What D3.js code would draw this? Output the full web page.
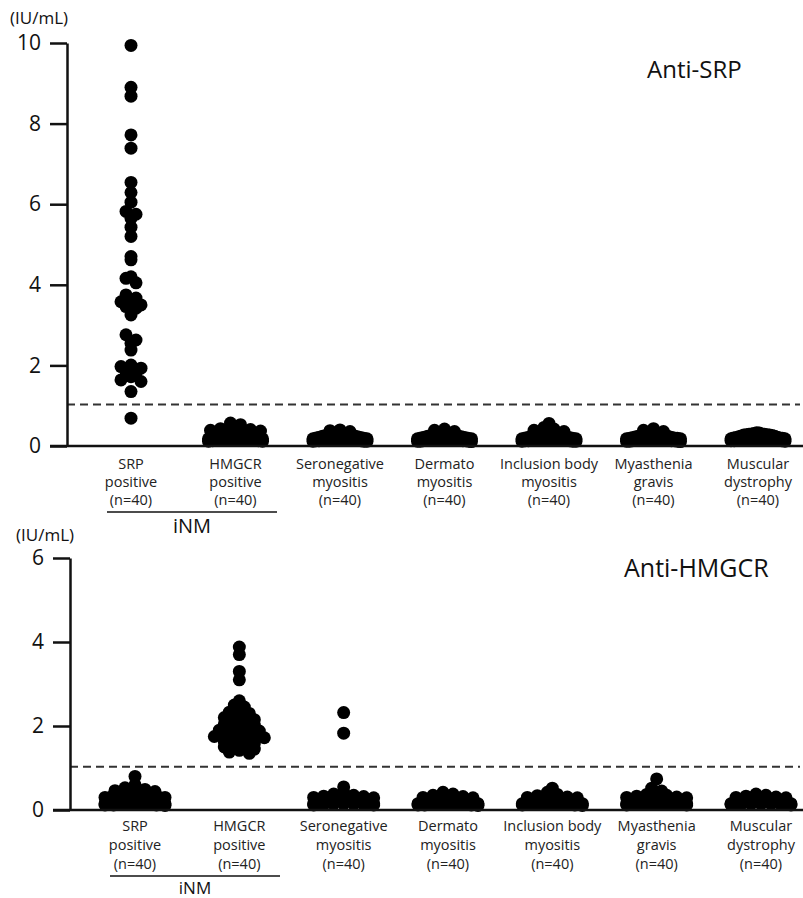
<!DOCTYPE html>
<html>
<head>
<meta charset="utf-8">
<script src="https://cdn.jsdelivr.net/npm/d3@7"></script>
<style>
  html, body { margin: 0; padding: 0; background: #fff; }
  svg { display: block; font-family: "Open Sans", "DejaVu Sans", sans-serif; }
</style>
</head>
<body>
<svg id="chart" width="803" height="898"></svg>
<script>
// group labels (3 lines each), shared by both panels
const groups = ["SRP", "HMGCR", "Seroneg", "Dermato", "IBM", "MG", "MD"];
const groupLabels = [
  ["SRP", "positive", "(n=40)"],
  ["HMGCR", "positive", "(n=40)"],
  ["Seronegative", "myositis", "(n=40)"],
  ["Dermato", "myositis", "(n=40)"],
  ["Inclusion body", "myositis", "(n=40)"],
  ["Myasthenia", "gravis", "(n=40)"],
  ["Muscular", "dystrophy", "(n=40)"]
];
const cutoff = 1.03;

// ---- Anti-SRP values (IU/mL) ----
const srpSRP = [9.94, 8.9, 8.68, 7.72, 7.39, 6.54, 6.29, 6.05, 5.82, 5.75, 5.65, 5.43, 5.2, 4.7, 4.62,
  4.2, 4.16, 4.05, 3.75, 3.67, 3.63, 3.58, 3.5, 3.46, 3.42, 3.25, 2.76, 2.63, 2.55, 2.38,
  2.01, 1.97, 1.93, 1.85, 1.8, 1.72, 1.64, 1.6, 1.35, 0.69];
const srpHMGCR = [0.57, 0.53, 0.48, 0.45, 0.43, 0.41, 0.39, 0.37, 0.34, 0.33, 0.32, 0.31, 0.3, 0.29, 0.28,
  0.27, 0.26, 0.25, 0.24, 0.23, 0.22, 0.21, 0.2, 0.19, 0.18, 0.18, 0.17, 0.17, 0.16, 0.16,
  0.16, 0.15, 0.15, 0.15, 0.14, 0.14, 0.13, 0.13, 0.12, 0.12];
const srpSeroneg = [0.4, 0.38, 0.36, 0.33, 0.32, 0.31, 0.3, 0.3, 0.29, 0.28, 0.27, 0.26, 0.25, 0.24, 0.23,
  0.22, 0.21, 0.2, 0.19, 0.18, 0.18, 0.17, 0.17, 0.17, 0.16, 0.16, 0.16, 0.15, 0.15, 0.15,
  0.14, 0.14, 0.14, 0.14, 0.13, 0.13, 0.13, 0.12, 0.12, 0.12];
const srpDermato = [0.42, 0.39, 0.36, 0.33, 0.32, 0.31, 0.3, 0.29, 0.28, 0.27, 0.26, 0.25, 0.24, 0.23, 0.22,
  0.21, 0.2, 0.19, 0.18, 0.18, 0.17, 0.17, 0.17, 0.16, 0.16, 0.16, 0.15, 0.15, 0.15, 0.14,
  0.14, 0.14, 0.14, 0.13, 0.13, 0.13, 0.12, 0.12, 0.12, 0.11];
const srpIBM = [0.56, 0.46, 0.42, 0.39, 0.36, 0.33, 0.32, 0.31, 0.3, 0.29, 0.28, 0.27, 0.26, 0.25, 0.24,
  0.23, 0.22, 0.21, 0.2, 0.19, 0.18, 0.18, 0.17, 0.17, 0.17, 0.16, 0.16, 0.16, 0.15, 0.15,
  0.15, 0.14, 0.14, 0.14, 0.13, 0.13, 0.13, 0.12, 0.12, 0.12];
const srpMG = [0.43, 0.39, 0.36, 0.33, 0.32, 0.31, 0.3, 0.29, 0.28, 0.27, 0.26, 0.25, 0.24, 0.23, 0.22,
  0.21, 0.2, 0.19, 0.19, 0.18, 0.18, 0.17, 0.17, 0.17, 0.16, 0.16, 0.16, 0.15, 0.15, 0.15,
  0.14, 0.14, 0.14, 0.13, 0.13, 0.13, 0.12, 0.12, 0.12, 0.11];
const srpMD = [0.33, 0.32, 0.31, 0.3, 0.3, 0.29, 0.29, 0.28, 0.28, 0.27, 0.27, 0.26, 0.25, 0.24, 0.23,
  0.22, 0.21, 0.2, 0.2, 0.19, 0.18, 0.18, 0.17, 0.17, 0.17, 0.16, 0.16, 0.16, 0.15, 0.15,
  0.15, 0.15, 0.14, 0.14, 0.14, 0.14, 0.13, 0.13, 0.13, 0.12];

// ---- Anti-HMGCR values (IU/mL) ----
const hmgSRP = [0.8, 0.6, 0.57, 0.53, 0.49, 0.46, 0.44, 0.42, 0.4, 0.38, 0.36, 0.35, 0.33, 0.32, 0.3,
  0.3, 0.28, 0.27, 0.26, 0.25, 0.24, 0.22, 0.21, 0.2, 0.2, 0.19, 0.18, 0.17, 0.16, 0.16,
  0.15, 0.15, 0.14, 0.14, 0.13, 0.13, 0.12, 0.12, 0.12, 0.11];
const hmgHMGCR = [3.88, 3.7, 3.3, 3.1, 2.6, 2.5, 2.45, 2.38, 2.33, 2.3, 2.27, 2.23, 2.2, 2.15, 2.12,
  2.08, 2.05, 2.02, 1.98, 1.96, 1.93, 1.9, 1.88, 1.85, 1.82, 1.8, 1.78, 1.75, 1.72, 1.68,
  1.65, 1.62, 1.58, 1.55, 1.53, 1.5, 1.45, 1.42, 1.38, 1.35];
const hmgSeroneg = [2.32, 1.83, 0.55, 0.42, 0.38, 0.35, 0.33, 0.32, 0.3, 0.29, 0.28, 0.27, 0.26, 0.25, 0.24,
  0.23, 0.22, 0.22, 0.21, 0.2, 0.2, 0.19, 0.19, 0.18, 0.18, 0.17, 0.17, 0.16, 0.16, 0.16,
  0.15, 0.15, 0.15, 0.14, 0.14, 0.14, 0.13, 0.13, 0.12, 0.12];
const hmgDermato = [0.42, 0.38, 0.35, 0.32, 0.3, 0.29, 0.28, 0.27, 0.26, 0.25, 0.24, 0.24, 0.23, 0.22, 0.22,
  0.21, 0.2, 0.2, 0.19, 0.19, 0.18, 0.18, 0.17, 0.17, 0.16, 0.16, 0.16, 0.15, 0.15, 0.15,
  0.14, 0.14, 0.14, 0.13, 0.13, 0.13, 0.12, 0.12, 0.12, 0.11];
const hmgIBM = [0.52, 0.42, 0.37, 0.34, 0.31, 0.3, 0.29, 0.28, 0.27, 0.26, 0.25, 0.24, 0.24, 0.23, 0.22,
  0.22, 0.21, 0.2, 0.2, 0.19, 0.19, 0.18, 0.18, 0.17, 0.17, 0.16, 0.16, 0.16, 0.15, 0.15,
  0.15, 0.14, 0.14, 0.14, 0.13, 0.13, 0.13, 0.12, 0.12, 0.11];
const hmgMG = [0.74, 0.52, 0.45, 0.41, 0.37, 0.35, 0.33, 0.31, 0.3, 0.29, 0.28, 0.27, 0.26, 0.25, 0.24,
  0.23, 0.22, 0.21, 0.2, 0.2, 0.19, 0.19, 0.18, 0.18, 0.17, 0.17, 0.16, 0.16, 0.16, 0.15,
  0.15, 0.15, 0.14, 0.14, 0.14, 0.13, 0.13, 0.13, 0.12, 0.12];
const hmgMD = [0.38, 0.35, 0.33, 0.31, 0.3, 0.29, 0.28, 0.28, 0.27, 0.26, 0.26, 0.25, 0.24, 0.24, 0.23,
  0.22, 0.22, 0.21, 0.2, 0.2, 0.19, 0.19, 0.18, 0.18, 0.17, 0.17, 0.17, 0.16, 0.16, 0.16,
  0.15, 0.15, 0.15, 0.14, 0.14, 0.14, 0.13, 0.13, 0.13, 0.12];

const srpTicks = [0, 2, 4, 6, 8, 10];
const hmgTicks = [0, 2, 4, 6];

const svg = d3.select("#chart");

// GraphPad-like scatter: values are binned by height, each bin spread sideways,
// the highest values of a bin in the middle so the low groups pile up into mounds
function swarm(vals, y, cx, binPx, gap, maxW) {
  const base = y(0);
  const bins = d3.group(vals, v => Math.floor((base - y(v)) / binPx));
  const out = [];
  bins.forEach(b => {
    const sorted = b.slice().sort((a, c) => c - a);
    const n = sorted.length;
    const sp = n > 1 ? Math.min(gap, maxW / (n - 1)) : 0;
    const slots = d3.range(n).map(j => (j - (n - 1) / 2) * sp)
      .sort((a, c) => Math.abs(a) - Math.abs(c) || a - c);
    sorted.forEach((v, k) => out.push({ x: cx + slots[k], y: y(v) }));
  });
  return out;
}

function panel(p) {
  const g = svg.append("g");
  const y = d3.scaleLinear().domain([0, p.max]).range([p.y0, p.y1]);
  const x = d3.scalePoint().domain(groups).range(p.xr);

  // threshold line
  g.append("line")
    .attr("x1", p.ax).attr("x2", 800)
    .attr("y1", y(cutoff)).attr("y2", y(cutoff))
    .attr("stroke", "#333").attr("stroke-width", 2)
    .attr("stroke-dasharray", "8,5");

  // dots
  p.series.forEach((vals, i) => {
    const pts = swarm(vals, y, x(groups[i]), p.binPx, 10, p.maxW);
    g.selectAll(null)
      .data(pts)
      .join("circle")
      .attr("cx", d => d.x)
      .attr("cy", d => d.y)
      .attr("r", 6.5)
      .attr("fill", "#000");
  });

  // y axis
  const yAxis = g.append("g")
    .attr("transform", `translate(${p.ax},0)`)
    .call(d3.axisLeft(y).tickValues(p.ticks).tickFormat(d3.format("d"))
      .tickSize(17).tickPadding(9).tickSizeOuter(0));
  yAxis.select(".domain").attr("stroke", "#111").attr("stroke-width", 2.5);
  yAxis.selectAll(".tick line").attr("stroke", "#111").attr("stroke-width", 2.5);
  yAxis.selectAll(".tick text").attr("font-size", 21).attr("fill", "#111")
    .attr("font-family", "Open Sans, sans-serif");

  // x baseline
  g.append("line")
    .attr("x1", p.ax - 17).attr("x2", 803)
    .attr("y1", y(0)).attr("y2", y(0))
    .attr("stroke", "#111").attr("stroke-width", 2.5);

  // unit
  g.append("text").attr("x", p.unitX).attr("y", p.unitY)
    .attr("font-size", 17).attr("fill", "#111").text("(IU/mL)");

  // title
  g.append("text").attr("x", p.titleX).attr("y", p.titleY)
    .attr("font-size", p.titleSize).attr("fill", "#111").text(p.title);

  // group labels
  groupLabels.forEach((lines, i) => {
    const t = g.append("text")
      .attr("text-anchor", "middle")
      .attr("font-size", 14.5).attr("fill", "#222");
    lines.forEach((s, k) => {
      t.append("tspan").attr("x", x(groups[i])).attr("y", p.labY + k * p.labDy).text(s);
    });
  });

  // iNM bracket
  g.append("line")
    .attr("x1", p.brX[0]).attr("x2", p.brX[1])
    .attr("y1", p.brY).attr("y2", p.brY)
    .attr("stroke", "#111").attr("stroke-width", 1.5);
  g.append("text")
    .attr("x", (p.brX[0] + p.brX[1]) / 2).attr("y", p.brY + p.inmDy)
    .attr("text-anchor", "middle").attr("font-size", p.inmSize).attr("fill", "#111")
    .text("iNM");
}

panel({
  series: [srpSRP, srpHMGCR, srpSeroneg, srpDermato, srpIBM, srpMG, srpMD],
  max: 10, ticks: srpTicks, y0: 446, y1: 43, ax: 67, xr: [131, 758], maxW: 54, binPx: 7,
  unitX: 10, unitY: 24, title: "Anti-SRP", titleSize: 24, titleX: 647, titleY: 78,
  labY: 469, labDy: 18, brX: [107, 277], brY: 512, inmDy: 21, inmSize: 20
});

panel({
  series: [hmgSRP, hmgHMGCR, hmgSeroneg, hmgDermato, hmgIBM, hmgMG, hmgMD],
  max: 6, ticks: hmgTicks, y0: 810, y1: 558, ax: 70, xr: [135, 761], maxW: 60, binPx: 6,
  unitX: 16, unitY: 541, title: "Anti-HMGCR", titleSize: 25, titleX: 624, titleY: 577,
  labY: 831, labDy: 19, brX: [110, 280], brY: 876, inmDy: 18, inmSize: 17
});
</script>
</body>
</html>
